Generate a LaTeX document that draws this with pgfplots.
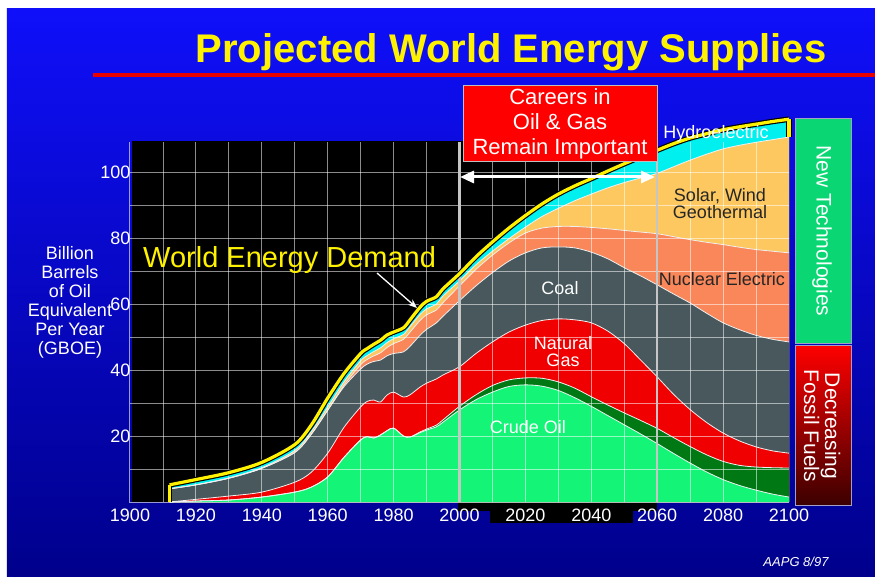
\documentclass[border=0pt]{standalone}
\usepackage{pgfplots}
\pgfplotsset{compat=1.18}
\usepackage{pgfplotstable}
\usepackage{fontspec}
\setmainfont{Liberation Sans}
\usetikzlibrary{arrows.meta}

\definecolor{crude}{RGB}{20,245,120}
\definecolor{other}{RGB}{0,120,20}
\definecolor{gas}{RGB}{240,0,0}
\definecolor{coal}{RGB}{72,88,92}
\definecolor{nuc}{RGB}{250,135,90}
\definecolor{solar}{RGB}{252,200,95}
\definecolor{hydro}{RGB}{0,240,240}
\definecolor{bgtop}{RGB}{15,15,250}
\definecolor{bgbot}{RGB}{0,0,140}
\definecolor{newtech}{RGB}{10,215,115}
\definecolor{darkred}{RGB}{60,0,0}
\definecolor{boxedge}{RGB}{160,160,200}

\pgfplotstableread{
yr crude other gas coal nuc solar total
1912 0 0 0 4.0 4.0 4.0 5.2
1920 0.3 0.3 0.8 5.2 5.2 5.2 6.8
1930 0.6 0.6 1.8 7.2 7.2 7.3 8.9
1940 1.5 1.5 3.0 10.2 10.2 10.4 12.0
1950 3.0 3.0 6.0 15.0 15.0 15.6 17.4
1955 4.5 4.5 9.0 20.5 20.5 21.3 23.3
1960 7.6 7.6 14.8 27.8 27.8 28.8 31.5
1965 13.6 13.6 22.7 35.0 35.5 36.5 39.0
1970 18.8 18.8 28.8 40.3 41.6 42.8 45.0
1972 19.8 19.8 30.5 41.8 43.2 44.4 46.5
1974 19.4 19.4 30.9 42.6 44.3 45.6 47.8
1976 20.3 20.3 30.3 43.0 45.2 46.7 49.0
1978 21.6 21.6 32.4 44.3 46.8 48.3 50.6
1980 22.4 22.4 33.3 45.0 48.0 49.5 51.5
1983 20.0 20.0 31.8 45.5 49.3 50.8 52.8
1985 19.7 19.7 32.5 47.2 51.5 53.2 55.2
1988 21.0 21.2 34.8 50.5 55.0 56.8 59.0
1990 21.8 22.1 36.0 52.3 56.7 58.5 60.8
1993 22.8 23.3 37.3 54.3 58.2 60.0 62.2
1995 24.2 24.9 38.5 56.3 60.4 62.4 64.6
2000 27.9 29.0 41.0 61.0 65.5 67.0 69.2
2005 31.0 32.5 45.0 65.5 70.5 71.9 74.3
2010 33.3 35.3 48.5 69.5 74.8 76.0 78.8
2015 35.0 37.0 51.5 73.0 78.5 79.8 83.0
2020 35.5 37.6 53.6 75.5 81.5 83.3 86.8
2025 35.1 37.5 55.0 77.0 83.0 86.5 90.3
2030 33.8 36.4 55.5 77.3 83.5 89.0 93.3
2035 31.6 34.5 55.2 77.0 83.5 91.3 95.8
2040 29.0 31.9 54.3 75.7 83.2 93.3 98.0
2045 26.2 29.4 51.8 73.7 82.8 95.2 100.3
2050 23.4 27.0 48.0 71.0 82.3 96.8 102.5
2055 20.6 24.7 43.0 68.5 81.8 98.2 104.6
2060 17.7 22.3 37.9 65.8 81.3 99.6 106.6
2065 14.7 19.5 32.6 63.0 80.4 101.6 108.6
2070 11.8 16.8 28.0 60.3 79.5 103.6 110.3
2075 9.1 14.3 24.1 57.2 78.7 105.4 111.6
2080 6.8 12.3 20.9 54.3 78.0 107.0 112.8
2085 5.0 11.1 18.5 52.2 77.2 108.1 113.7
2090 3.6 10.6 16.7 50.5 76.5 109.0 114.5
2095 2.4 10.4 15.5 49.3 76.0 109.8 115.3
2100 1.5 10.3 14.8 48.5 75.5 110.6 116.0
}\energy

\newcommand{\fs}[2]{\fontsize{#1}{#2}\selectfont}

\begin{document}
\begin{tikzpicture}
% background in pixel coordinates
\begin{scope}[shift={(-130pt,502pt)},x=1pt,y=-1pt]
 \fill[white] (0,0) rectangle (875,576);
 \shade[top color=bgtop,bottom color=bgbot] (7,9) rectangle (875,576);
 \fill[black] (132,141) rectangle (657,502);
 \fill[black] (458,500) rectangle (657,511);
 \fill[black] (490,505) rectangle (633,523);
 \fill[red!92!black] (93,73) rectangle (875,77);
\end{scope}

\begin{axis}[at={(0,0)},anchor=south west,scale only axis,
  width=659pt,height=396pt,
  xmin=1900,xmax=2100,ymin=0,ymax=120,clip=false,
  axis line style={draw=none},major tick length=0pt,
  xtick={1900,1920,...,2100},
  xticklabels={1900,1920,1940,1960,1980,2000,2020,2040,2060,2080,2100},
  ytick={20,40,60,80,100},
  yticklabels={20,40,60,80,100},
  tick label style={text=white,font=\fs{18}{20}},
  xticklabel style={yshift=-3pt},
  yticklabel style={xshift=4pt}]

 \addplot[fill=hydro,draw=none,smooth] table[x=yr,y=total]{\energy} \closedcycle;
 \addplot[fill=solar,draw=none,smooth] table[x=yr,y=solar]{\energy} \closedcycle;
 \addplot[fill=nuc,draw=none,smooth] table[x=yr,y=nuc]{\energy} \closedcycle;
 \addplot[fill=coal,draw=none,smooth] table[x=yr,y=coal]{\energy} \closedcycle;
 \addplot[fill=gas,draw=none,smooth] table[x=yr,y=gas]{\energy} \closedcycle;
 \addplot[fill=other,draw=none,smooth] table[x=yr,y=other]{\energy} \closedcycle;
 \addplot[fill=crude,draw=none,smooth] table[x=yr,y=crude]{\energy} \closedcycle;

 \addplot[white!88!gray,line width=0.8pt,smooth] table[x=yr,y=solar]{\energy};
 \addplot[white!88!gray,line width=0.8pt,smooth] table[x=yr,y=nuc]{\energy};
 \addplot[white!88!gray,line width=0.8pt,smooth] table[x=yr,y=coal]{\energy};
 \addplot[white!88!gray,line width=0.8pt,smooth] table[x=yr,y=gas]{\energy};
 \addplot[white!88!gray,line width=0.8pt,smooth] table[x=yr,y=other]{\energy};
 \addplot[white!88!gray,line width=0.8pt,smooth] table[x=yr,y=crude]{\energy};

 \pgfplotsinvokeforeach{1910,1920,...,2090}{
   \draw[white,opacity=0.55,line width=0.9pt] (axis cs:#1,0) -- (axis cs:#1,109);}
 \pgfplotsinvokeforeach{10,20,...,100}{
   \draw[white,opacity=0.55,line width=0.9pt] (axis cs:1900,#1) -- (axis cs:2100,#1);}
 \draw[white,opacity=0.6,line width=1pt] (axis cs:1900,109) -- (axis cs:1900,0) -- (axis cs:2100,0);
 \draw[gray!45!white,line width=2.2pt] (axis cs:2000,0) -- (axis cs:2000,109);
 \draw[gray!45!white,line width=2.2pt] (axis cs:2060,0) -- (axis cs:2060,109);

 \addplot[black,line width=5.5pt] coordinates {(1912,0) (1912,5.2)};
 \addplot[black,line width=5.5pt,smooth] table[x=yr,y=total]{\energy};
 \addplot[black,line width=5.5pt] coordinates {(2100,116) (2100,110.6)};
 \addplot[yellow,line width=3.2pt] coordinates {(1912,0) (1912,5.2)};
 \addplot[yellow,line width=3.2pt,smooth] table[x=yr,y=total]{\energy};
 \addplot[yellow,line width=3.2pt] coordinates {(2100,116) (2100,110.6)};
\end{axis}

\begin{scope}[shift={(-130pt,502pt)},x=1pt,y=-1pt]
 \node[text=yellow,font=\bfseries\fs{40}{44},anchor=base] at (511,63) {Projected World Energy Supplies};
 \node[text=yellow,font=\fs{29}{32},anchor=base west,inner sep=0pt] at (143,268) {World Energy Demand};
 \draw[white,line width=1.3pt,-{Stealth[length=9pt,width=7pt]}] (377,273) -- (417,308);
 \node[text=white,align=center,font=\fs{18}{19}] at (70,302) {Billion\\Barrels\\of Oil\\Equivalent\\Per Year\\(GBOE)};
 \fill[red] (463,85) rectangle (657,161);
 \draw[gray!50!white,line width=0.6pt] (463,85) rectangle (657,161);
 \node[text=white,align=center,font=\fs{22}{25}] at (560,124) {Careers in\\Oil \& Gas\\Remain Important};
 \draw[white,line width=3pt,{Triangle[length=14pt,width=12pt]}-{Triangle[length=14pt,width=12pt]}] (460,177) -- (655,177);
 \node[text=white,font=\fs{18}{20}] at (716,134) {Hydroelectric};
 \node[text=black!85,align=center,font=\fs{18}{17}] at (720,204) {Solar, Wind\\Geothermal};
 \node[text=black!85,font=\fs{18}{20}] at (722,279) {Nuclear Electric};
 \node[text=white,font=\fs{18}{20}] at (560,288) {Coal};
 \node[text=white,align=center,font=\fs{18}{17}] at (563,352) {Natural\\Gas};
 \node[text=white,font=\fs{18}{20}] at (528,427) {Crude Oil};
 \fill[newtech] (795,118) rectangle (851,343);
 \draw[boxedge,line width=0.7pt] (795,118) rectangle (851,343);
 \shade[top color=red,bottom color=darkred] (795,345) rectangle (851,505);
 \draw[boxedge,line width=0.7pt] (795,345) rectangle (851,505);
 \node[text=white,rotate=-90,font=\fs{21}{22}] at (822,231) {New Technologies};
 \node[text=white,rotate=-90,align=center,font=\fs{21}{21}] at (822,426) {Decreasing\\Fossil Fuels};
 \node[text=white,font=\itshape\fs{13}{15}] at (796,562) {AAPG 8/97};
\end{scope}
\pgfresetboundingbox
\useasboundingbox (-130pt,-74pt) rectangle (745pt,502pt);
\end{tikzpicture}
\end{document}
